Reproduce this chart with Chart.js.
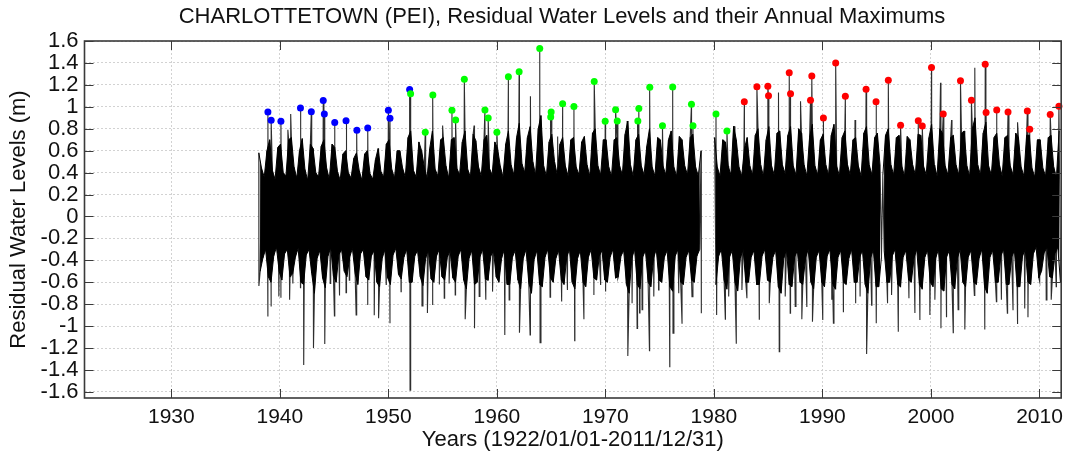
<!DOCTYPE html>
<html><head><meta charset="utf-8">
<script src="https://cdn.jsdelivr.net/npm/chart.js@4.4.1/dist/chart.umd.min.js"></script>
<style>html,body{margin:0;padding:0;background:#fff}#wrap{width:1070px;height:461px;position:relative}</style>
</head><body><div id="wrap"><canvas id="c" width="1070" height="461"></canvas></div>
<script>
const chartTitle = 'CHARLOTTETOWN (PEI), Residual Water Levels and their Annual Maximums';
const xAxisTitle = 'Years (1922/01/01-2011/12/31)';
const yAxisTitle = 'Residual Water Levels (m)';
const xTickYears = [1930,1940,1950,1960,1970,1980,1990,2000,2010];
const yTickLevels = [-1.6,-1.4,-1.2,-1,-0.8,-0.6,-0.4,-0.2,0,0.2,0.4,0.6,0.8,1,1.2,1.4,1.6];

// quarterly upper / lower extremes of the residual record, one row per year from 1938
const envFirstYear = 1938;
const envHigh = [
[0.58,0.44,0.36,0.6],[0.7,0.42,0.34,0.63],[0.66,0.4,0.37,0.7],[0.72,0.45,0.35,0.6],[0.71,0.43,0.33,0.66],
[0.62,0.4,0.36,0.64],[0.7,0.44,0.34,0.66],[0.63,0.41,0.33,0.57],[0.6,0.4,0.35,0.53],[0.58,0.42,0.33,0.57],
[0.6,0.39,0.34,0.52],[0.62,0.41,0.36,0.66],[0.7,0.43,0.35,0.6],[0.6,0.44,0.36,0.72],[0.78,0.42,0.36,0.68],
[0.6,0.45,0.35,0.62],[0.78,0.43,0.37,0.7],[0.72,0.46,0.35,0.7],[0.72,0.44,0.38,0.68],[0.78,0.43,0.36,0.75],
[0.69,0.45,0.37,0.7],[0.74,0.44,0.38,0.68],[0.62,0.46,0.36,0.66],[0.78,0.47,0.38,0.72],[0.85,0.48,0.4,0.72],
[0.82,0.5,0.38,0.8],[0.92,0.46,0.37,0.68],[0.75,0.5,0.38,0.66],[0.72,0.46,0.37,0.7],[0.72,0.45,0.38,0.68],
[0.73,0.47,0.37,0.76],[0.8,0.46,0.38,0.7],[0.7,0.45,0.37,0.7],[0.72,0.46,0.38,0.75],[0.87,0.47,0.37,0.7],
[0.75,0.46,0.38,0.64],[0.8,0.45,0.37,0.72],[0.7,0.46,0.38,0.7],[0.78,0.45,0.37,0.73],[0.7,0.46,0.38,0.72],
[0.75,0.45,0.37,0.6],[null,null,null,null],[0.72,0.45,0.37,0.7],[0.68,0.46,0.38,0.82],[0.7,0.45,0.37,0.62],
[0.72,0.46,0.38,0.74],[0.8,0.47,0.37,0.7],[0.82,0.46,0.38,0.76],[0.78,0.47,0.39,0.74],[0.82,0.46,0.38,0.8],
[0.76,0.47,0.37,0.72],[0.84,0.46,0.38,0.7],[0.75,0.47,0.38,0.74],[0.84,0.46,0.37,0.72],[0.78,0.47,0.38,0.7],
[0.72,0.46,0.37,0.76],[0.82,0.47,0.38,0.72],[0.76,0.46,0.37,0.74],[0.8,0.47,0.38,0.72],[0.74,0.46,0.37,0.73],
[0.7,0.47,0.38,0.75],[0.74,0.46,0.38,0.72],[0.84,0.47,0.37,0.8],[0.76,0.46,0.38,0.72],[0.74,0.47,0.38,0.76],
[0.78,0.46,0.37,0.8],[0.9,0.47,0.38,0.76],[0.86,0.46,0.38,0.72],[0.76,0.47,0.37,0.72],[0.74,0.46,0.38,0.76],
[0.72,0.45,0.37,0.74],[0.74,0.44,0.36,0.7],[0.7,0.44,0.37,0.72],[0.74,0.45,0.36,0.78]
];
const envLow = [
[-0.5,-0.38,-0.3,-0.55],[-0.6,-0.36,-0.28,-0.5],[-0.58,-0.34,-0.3,-0.55],[-0.52,-0.37,-0.29,-0.6],[-0.62,-0.35,-0.3,-0.52],
[-0.7,-0.38,-0.31,-0.56],[-0.65,-0.36,-0.28,-0.54],[-0.6,-0.35,-0.3,-0.5],[-0.55,-0.37,-0.29,-0.52],[-0.62,-0.34,-0.3,-0.55],
[-0.58,-0.36,-0.31,-0.6],[-0.64,-0.38,-0.3,-0.56],[-0.62,-0.35,-0.29,-0.53],[-0.57,-0.37,-0.3,-0.6],[-0.6,-0.36,-0.31,-0.55],
[-0.63,-0.38,-0.3,-0.57],[-0.6,-0.36,-0.3,-0.55],[-0.58,-0.37,-0.31,-0.56],[-0.6,-0.36,-0.3,-0.58],[-0.66,-0.38,-0.31,-0.62],
[-0.6,-0.37,-0.3,-0.57],[-0.58,-0.36,-0.31,-0.55],[-0.6,-0.38,-0.3,-0.62],[-0.62,-0.37,-0.31,-0.58],[-0.66,-0.38,-0.3,-0.6],
[-0.7,-0.39,-0.31,-0.62],[-0.64,-0.37,-0.3,-0.56],[-0.6,-0.38,-0.31,-0.58],[-0.62,-0.37,-0.3,-0.6],[-0.66,-0.38,-0.31,-0.6],
[-0.64,-0.37,-0.3,-0.56],[-0.58,-0.36,-0.31,-0.58],[-0.6,-0.37,-0.3,-0.56],[-0.55,-0.36,-0.31,-0.62],[-0.7,-0.38,-0.3,-0.62],
[-0.66,-0.37,-0.31,-0.6],[-0.64,-0.38,-0.3,-0.58],[-0.6,-0.37,-0.31,-0.64],[-0.68,-0.36,-0.3,-0.6],[-0.62,-0.37,-0.31,-0.58],
[-0.6,-0.36,-0.3,null],[null,null,null,null],[-0.62,-0.36,-0.3,-0.58],[-0.66,-0.37,-0.31,-0.6],[-0.68,-0.38,-0.3,-0.6],
[-0.6,-0.37,-0.31,-0.62],[-0.62,-0.36,-0.3,-0.58],[-0.6,-0.37,-0.31,-0.64],[-0.7,-0.38,-0.3,-0.62],[-0.64,-0.37,-0.31,-0.6],
[-0.62,-0.38,-0.3,-0.6],[-0.66,-0.37,-0.31,-0.6],[-0.64,-0.36,-0.3,-0.62],[-0.66,-0.37,-0.31,-0.6],[-0.62,-0.38,-0.3,-0.6],
[-0.6,-0.37,-0.31,-0.62],[-0.7,-0.38,-0.3,-0.64],[-0.64,-0.37,-0.31,-0.6],[-0.6,-0.36,-0.3,-0.62],[-0.64,-0.37,-0.31,-0.58],
[-0.6,-0.38,-0.3,-0.62],[-0.66,-0.37,-0.31,-0.6],[-0.64,-0.38,-0.3,-0.66],[-0.68,-0.37,-0.31,-0.62],[-0.66,-0.38,-0.3,-0.6],
[-0.64,-0.37,-0.31,-0.6],[-0.62,-0.38,-0.3,-0.64],[-0.7,-0.37,-0.31,-0.6],[-0.6,-0.36,-0.3,-0.62],[-0.62,-0.37,-0.31,-0.64],
[-0.64,-0.36,-0.3,-0.6],[-0.62,-0.34,-0.28,-0.56],[-0.5,-0.33,-0.28,-0.55],[-0.56,-0.34,-0.28,-0.6]
];

// short interruptions of the record
const recordBreakYears = [1995.45];

// individual tall surges that are not annual maxima
const upSpikeYears  = [1940.74,1941.0,1955.0,1957.9,1963.12,1965.6,1972.0,1981.9,1985.95,1987.98,1993.0,2000.88,2001.9,2004.04,2008.0];
const upSpikeLevels = [0.79,0.935,0.83,0.83,1.096,0.73,0.87,0.82,1.13,1.05,0.88,1.22,0.88,1.355,0.86];

// deepest negative residuals
const lowSpikeYears = [1938.07,1938.9,1939.2,1939.91,1940.1,1940.9,1941.2,1941.9,1942.2,1943.1,1944.14,1944.64,1945.03,1945.5,1946.1,1946.4,1947.03,1948.1,1948.7,1949.1,1949.8,1950.15,1951.17,1952.0,1953.1,1953.6,1954.07,1954.7,1955.15,1955.6,1956.16,1957.08,1957.94,1958.37,1958.98,1959.6,1960.73,1961.13,1962.1,1963.06,1963.98,1964.9,1965.97,1966.5,1967.17,1968.02,1968.94,1969.56,1970.02,1971.15,1972.07,1972.46,1972.92,1973.15,1973.38,1974.06,1974.46,1974.9,1975.93,1976.23,1976.76,1977.06,1977.98,1978.84,1980.25,1981.05,1981.36,1982.06,1982.58,1983.04,1984.18,1985.1,1986.02,1986.57,1987.03,1987.49,1988.1,1988.56,1989.08,1990.03,1990.86,1991.01,1991.93,1993.06,1993.47,1994.08,1994.53,1994.98,1996.0,1996.37,1996.99,1997.97,1998.52,1998.98,1999.9,2000.36,2000.92,2001.43,2002.05,2002.5,2003.12,2004.0,2004.96,2006.03,2006.49,2007.04,2007.56,2007.96,2008.64,2008.94,2010.02,2010.62,2011.08,2011.54];
const lowSpikeLevels = [-0.633,-0.913,-0.82,-0.73,-0.74,-0.76,-0.61,-0.65,-1.354,-1.2,-1.163,-0.61,-0.907,-0.72,-0.694,-0.58,-0.898,-0.806,-0.9,-0.928,-0.62,-0.974,-0.685,-1.583,-0.816,-0.88,-0.806,-0.62,-0.745,-0.61,-0.715,-0.937,-1.02,-0.73,-0.76,-0.685,-1.08,-0.76,-1.06,-1.08,-1.15,-0.736,-0.776,-0.67,-1.132,-0.937,-0.715,-0.62,-0.685,-0.563,-1.272,-0.79,-1.02,-0.88,-0.85,-1.224,-0.73,-0.67,-1.37,-1.065,-0.7,-0.974,-0.731,-0.882,-0.898,-0.937,-0.73,-1.156,-0.67,-0.745,-0.937,-0.791,-1.233,-0.73,-0.882,-0.82,-0.937,-0.82,-0.959,-0.943,-0.76,-0.974,-0.868,-0.791,-0.73,-1.254,-0.81,-0.974,-0.791,-0.715,-1.05,-0.745,-0.88,-0.943,-0.898,-0.76,-1.02,-0.913,-1.06,-0.85,-1.03,-0.72,-1.03,-0.776,-0.76,-0.882,-0.85,-0.98,-0.84,-0.919,-0.594,-0.76,-0.76,-0.64];

// annual maximums (three periods)
const blueYears = [1938.9,1939.2,1940.1,1941.9,1942.9,1944.0,1944.1,1945.06,1946.1,1947.1,1948.1,1950.0,1950.15,1951.96];
const blueMax   = [0.953,0.877,0.868,0.99,0.956,1.057,0.935,0.856,0.874,0.786,0.807,0.968,0.895,1.157];
const greenYears = [1952.05,1953.4,1954.1,1955.86,1956.2,1957.0,1958.9,1959.2,1960.0,1961.06,1962.05,1963.95,1964.96,1965.0,1966.06,1967.1,1968.97,1969.98,1970.94,1971.09,1972.99,1973.08,1974.09,1975.26,1976.2,1977.93,1978.07,1980.19,1981.2];
const greenMax   = [1.118,0.767,1.108,0.968,0.88,1.251,0.972,0.898,0.767,1.273,1.319,1.532,0.908,0.953,1.029,1.002,1.23,0.868,0.974,0.871,0.871,0.984,1.178,0.828,1.181,1.023,0.828,0.935,0.78];
const redYears = [1982.8,1983.96,1984.97,1985.03,1986.94,1987.06,1988.9,1989.02,1990.09,1991.22,1992.11,1994.02,1994.94,1996.07,1997.2,1998.83,1999.2,2000.05,2001.13,2002.72,2003.73,2005.0,2005.08,2006.06,2007.1,2008.88,2009.1,2010.99,2011.79];
const redMax   = [1.045,1.184,1.187,1.1,1.31,1.118,1.06,1.282,0.898,1.4,1.096,1.16,1.045,1.242,0.831,0.874,0.826,1.358,0.935,1.237,1.06,1.388,0.947,0.972,0.953,0.962,0.795,0.929,1.005];

// ---------- build datasets ----------
const pairs = (ts, vs) => ts.map((t, i) => ({x: t, y: vs[i]}));
const breaks = recordBreakYears.map(t => ({x: t, y: null}));
const byX = (a, b) => a.x - b.x;
const coreTop = [...breaks], coreBottom = [...breaks];
envHigh.forEach((row, i) => {
  const yr = envFirstYear + i;
  for (let q = 0; q < 4; q++) {
    coreTop.push({x: yr + q / 4 + 1 / 16, y: row[q]});
    coreBottom.push({x: yr + q / 4 + 3 / 16, y: envLow[i][q]});
  }
});
coreTop.sort(byX); coreBottom.sort(byX);
const signal = [...coreTop.filter(p => p.y !== null || !recordBreakYears.includes(p.x)), ...coreBottom.filter(p => p.y !== null),
  ...pairs(upSpikeYears, upSpikeLevels), ...pairs(lowSpikeYears, lowSpikeLevels),
  ...pairs(blueYears, blueMax), ...pairs(greenYears, greenMax), ...pairs(redYears, redMax)];
signal.sort(byX);

const FONT = "'Liberation Sans', Arial, Helvetica, sans-serif";
const dotStyle = c => ({type: 'line', showLine: false, pointRadius: 3.5, pointHoverRadius: 3.5,
  pointBackgroundColor: c, pointBorderColor: c, pointBorderWidth: 0, clip: 8});

const frame = {
  id: 'frame',
  afterDatasetsDraw(chart) {
    const {ctx, chartArea: a, scales: {x, y}} = chart;
    ctx.save();
    ctx.strokeStyle = '#3a3a3a';
    ctx.lineWidth = 1;
    const L = 9;
    ctx.beginPath();
    xTickYears.forEach(v => {
      const px = Math.round(x.getPixelForValue(v)) + 0.5;
      ctx.moveTo(px, a.bottom); ctx.lineTo(px, a.bottom - L);
      ctx.moveTo(px, a.top); ctx.lineTo(px, a.top + L);
    });
    yTickLevels.forEach(v => {
      const py = Math.round(y.getPixelForValue(v)) + 0.5;
      ctx.moveTo(a.left, py); ctx.lineTo(a.left + L, py);
      ctx.moveTo(a.right, py); ctx.lineTo(a.right - L, py);
    });
    ctx.stroke();
    ctx.lineWidth = 1.6;
    ctx.strokeRect(a.left, a.top, a.right - a.left, a.bottom - a.top);
    ctx.restore();
  },
  afterDraw(chart) {
    const ctx = chart.ctx;
    ctx.save();
    ctx.fillStyle = '#111';
    ctx.font = '22px ' + FONT;
    ctx.textAlign = 'center';
    ctx.textBaseline = 'middle';
    ctx.fillText(chartTitle, 562, 17);
    ctx.restore();
  }
};

new Chart(document.getElementById('c'), {
  type: 'line',
  data: {
    datasets: [
      Object.assign(dotStyle('#ff0000'), {data: pairs(redYears, redMax), order: 1}),
      Object.assign(dotStyle('#00ff00'), {data: pairs(greenYears, greenMax), order: 2}),
      Object.assign(dotStyle('#0000ff'), {data: pairs(blueYears, blueMax), order: 3}),
      {data: signal, borderColor: '#2e2e2e', borderWidth: 1.1, pointRadius: 0, tension: 0,
       fill: false, spanGaps: false, order: 13},
      {data: coreTop, borderColor: '#000', borderWidth: 1, pointRadius: 0, tension: 0,
       fill: '+1', backgroundColor: '#000', spanGaps: false, order: 11},
      {data: coreBottom, borderColor: '#000', borderWidth: 1, pointRadius: 0, tension: 0,
       fill: false, spanGaps: false, order: 12}
    ]
  },
  options: {
    responsive: false, animation: false, events: [],
    layout: {padding: {top: 41, right: 7, bottom: 8, left: 0}},
    plugins: {legend: {display: false}, tooltip: {enabled: false}, title: {display: false}},
    scales: {
      x: {
        type: 'linear', min: 1922, max: 2012,
        afterBuildTicks: s => { s.ticks = xTickYears.map(v => ({value: v})); },
        afterFit: s => { s.height = 55; },
        ticks: {callback: v => String(v), font: {family: FONT, size: 21}, color: '#111', padding: 7, maxRotation: 0, autoSkip: false},
        grid: {color: '#d2d2d2', lineWidth: 1, drawTicks: false},
        border: {display: false, dash: [2, 2]},
        title: {display: true, text: xAxisTitle, font: {family: FONT, size: 22}, color: '#111', padding: {top: 0, bottom: 0}}
      },
      y: {
        min: -1.655, max: 1.6,
        afterBuildTicks: s => { s.ticks = yTickLevels.map(v => ({value: v})); },
        afterFit: s => { s.width = 84.5; },
        ticks: {callback: v => String(v), font: {family: FONT, size: 22}, color: '#111', padding: 6, autoSkip: false},
        grid: {color: '#d2d2d2', lineWidth: 1, drawTicks: false},
        border: {display: false, dash: [2, 2]},
        title: {display: true, text: yAxisTitle, font: {family: FONT, size: 22}, color: '#111', padding: {top: 6, bottom: 0}}
      }
    }
  },
  plugins: [frame]
});
</script>
</body></html>
